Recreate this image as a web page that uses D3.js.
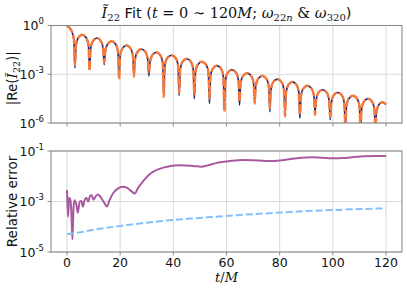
<!DOCTYPE html>
<html><head><meta charset="utf-8">
<script src="https://cdn.jsdelivr.net/npm/d3@7"></script>
<style>body{margin:0;background:#fff} svg{display:block}</style>
</head><body><svg id="c" width="407" height="288"></svg>
<script>
// ---------- data ----------
const xTicks = [0, 20, 40, 60, 80, 100, 120];
const topYTickExp = [0, -3, -6];
const botYTickExp = [-1, -3, -5];

// |Re(I22)| : times and log10 values
const tTop = [0, 1.0, 1.8, 2.6,
  3.0, 3.4, 4.2, 5.75, 7.3, 8.1,
  8.5, 8.9, 9.7, 11.25, 12.8, 13.6,
  14.0, 14.4, 15.2, 16.8, 18.4, 19.2,
  19.6, 20.0, 20.8, 22.4, 24.0, 24.8,
  25.2, 25.6, 26.4, 28.0, 29.6, 30.4,
  30.8, 31.2, 32.0, 33.6, 35.2, 36.0,
  36.4, 36.8, 37.6, 39.3, 41.0, 41.8,
  42.2, 42.6, 43.4, 45.05, 46.7, 47.5,
  47.9, 48.3, 49.1, 50.75, 52.4, 53.2,
  53.6, 54.0, 54.8, 56.4, 58.0, 58.8,
  59.2, 59.6, 60.4, 62.05, 63.7, 64.5,
  64.9, 65.3, 66.1, 67.75, 69.4, 70.2,
  70.6, 71.0, 71.8, 73.45, 75.1, 75.9,
  76.3, 76.7, 77.5, 79.15, 80.8, 81.6,
  82.0, 82.4, 83.2, 84.8, 86.4, 87.2,
  87.6, 88.0, 88.8, 90.45, 92.1, 92.9,
  93.3, 93.7, 94.5, 96.15, 97.8, 98.6,
  99.0, 99.4, 100.2, 101.85, 103.5, 104.3,
  104.7, 105.1, 105.9, 107.55, 109.2, 110.0,
  110.4, 110.8, 111.6, 113.2, 114.8, 115.6,
  116.0, 116.4, 117.2, 118.5, 120.0];

const fitLog = [-0.02, -0.15, -0.35, -0.85,
  -2.45, -1.22, -0.77, -0.57, -0.77, -1.22,
  -2.8, -1.42, -0.97, -0.77, -0.97, -1.42,
  -2.3, -1.62, -1.17, -0.97, -1.17, -1.62,
  -3.3, -1.87, -1.42, -1.22, -1.42, -1.87,
  -3.15, -2.1, -1.65, -1.45, -1.65, -2.1,
  -2.9, -2.3, -1.85, -1.65, -1.85, -2.3,
  -4.4, -2.48, -2.03, -1.83, -2.03, -2.48,
  -4.15, -2.7, -2.25, -2.05, -2.25, -2.7,
  -4.25, -2.88, -2.43, -2.23, -2.43, -2.88,
  -4.5, -3.12, -2.67, -2.47, -2.67, -3.12,
  -5.3, -3.37, -2.92, -2.72, -2.92, -3.37,
  -4.7, -3.58, -3.13, -2.93, -3.13, -3.58,
  -4.8, -3.75, -3.3, -3.1, -3.3, -3.75,
  -5.1, -3.95, -3.5, -3.3, -3.5, -3.95,
  -5.6, -4.12, -3.67, -3.47, -3.67, -4.12,
  -5.5, -4.35, -3.9, -3.7, -3.9, -4.35,
  -5.5, -4.6, -4.15, -3.95, -4.15, -4.6,
  -5.65, -4.77, -4.32, -4.12, -4.32, -4.77,
  -6.3, -4.97, -4.52, -4.32, -4.52, -4.97,
  -6.3, -5.15, -4.7, -4.5, -4.7, -5.15,
  -6.3, -5.35, -4.9, -4.72, -4.85];

const dataLog = [-0.02, -0.15, -0.35, -0.85,
  -2.6, -1.22, -0.77, -0.57, -0.77, -1.22,
  -2.7, -1.42, -0.97, -0.77, -0.97, -1.42,
  -2.4, -1.62, -1.17, -0.97, -1.17, -1.62,
  -3.2, -1.87, -1.42, -1.22, -1.42, -1.87,
  -3.0, -2.1, -1.65, -1.45, -1.65, -2.1,
  -3.1, -2.3, -1.85, -1.65, -1.85, -2.3,
  -4.1, -2.48, -2.03, -1.83, -2.03, -2.48,
  -4.3, -2.7, -2.25, -2.05, -2.25, -2.7,
  -4.5, -2.88, -2.43, -2.23, -2.43, -2.88,
  -4.8, -3.12, -2.67, -2.47, -2.67, -3.12,
  -4.9, -3.37, -2.92, -2.72, -2.92, -3.37,
  -4.9, -3.58, -3.13, -2.93, -3.13, -3.58,
  -4.6, -3.75, -3.3, -3.1, -3.3, -3.75,
  -5.3, -3.95, -3.5, -3.3, -3.5, -3.95,
  -5.2, -4.12, -3.67, -3.47, -3.67, -4.12,
  -5.7, -4.35, -3.9, -3.7, -3.9, -4.35,
  -5.3, -4.6, -4.15, -3.95, -4.15, -4.6,
  -5.8, -4.77, -4.32, -4.12, -4.32, -4.77,
  -6.3, -4.97, -4.52, -4.32, -4.52, -4.97,
  -6.3, -5.15, -4.7, -4.5, -4.7, -5.15,
  -6.3, -5.35, -4.9, -4.72, -4.85];

// relative error (purple) : times and log10 values
const tErr = [0.0, 0.2, 0.45, 0.8, 1.2, 1.6, 2.05, 2.5, 2.9, 3.5, 4.1, 4.8, 5.4, 6.0, 6.6, 7.3,
  8.0, 8.7, 9.3, 10.0, 10.8, 11.7, 12.8, 14.0, 15.0, 16.0, 17.3, 19.0, 21.0, 22.8, 24.3, 25.5,
  26.8, 28.6, 30.5, 32.5, 34.5, 36.5, 39, 42, 45, 48, 50.5, 53, 56, 59, 62, 66, 70, 74, 77, 80,
  84, 88, 92, 96, 100, 104, 108, 112, 116, 120];
const errLog = [-2.55, -3.1, -3.6, -2.85, -2.9, -3.3, -4.5, -3.2, -2.95, -3.1, -3.45, -3.0, -2.98, -3.2, -2.95, -2.85,
  -3.0, -2.78, -2.75, -2.93, -2.8, -2.72, -2.85, -3.05, -3.2, -2.95, -2.68, -2.5, -2.42, -2.47, -2.6, -2.68,
  -2.45, -2.2, -1.98, -1.82, -1.72, -1.65, -1.59, -1.56, -1.57, -1.6, -1.62, -1.57, -1.48, -1.43, -1.39, -1.36, -1.37, -1.39, -1.4, -1.38,
  -1.32, -1.27, -1.25, -1.27, -1.29, -1.28, -1.24, -1.21, -1.2, -1.2];

// relative error (light blue dashed)
const tErr2 = [0, 5, 10, 15, 20, 25, 30, 35, 40, 50, 60, 70, 80, 90, 100, 110, 120];
const err2Log = [-4.3, -4.22, -4.12, -4.04, -3.97, -3.9, -3.84, -3.78, -3.73, -3.65, -3.57, -3.5, -3.44, -3.38, -3.34, -3.3, -3.27];

// ---------- drawing ----------
const svg = d3.select('#c');
const L = 51, R = 402, T1 = 25.5, B1 = 123, T2 = 151, B2 = 252;
const SANS = "'DejaVu Sans', sans-serif";
const SERIF = "'DejaVu Serif', serif";
const x = d3.scaleLinear().domain([-6, 126]).range([L, R]);
const yTop = d3.scaleLog().domain([1e-6, 1]).range([B1, T1]);
const yBot = d3.scaleLog().domain([1e-5, 1e-1]).range([B2, T2]);

const defs = svg.append('defs');
function clip(id, top, bot) {
  defs.append('clipPath').attr('id', id).append('rect')
    .attr('x', L).attr('y', top).attr('width', R - L).attr('height', bot - top);
}
clip('c1', T1, B1); clip('c2', T2, B2);

function panel(y, top, bot, exps, clipId, showXLabels) {
  const g = svg.append('g');
  g.selectAll('.gx').data(xTicks).join('line')
    .attr('x1', d => x(d)).attr('x2', d => x(d)).attr('y1', top).attr('y2', bot)
    .attr('stroke', '#d9d9d9').attr('stroke-width', 1);
  g.selectAll('.gy').data(exps).join('line')
    .attr('x1', L).attr('x2', R).attr('y1', d => y(Math.pow(10, d))).attr('y2', d => y(Math.pow(10, d)))
    .attr('stroke', '#d9d9d9').attr('stroke-width', 1);
  const content = svg.append('g').attr('clip-path', `url(#${clipId})`);
  svg.append('rect').attr('x', L).attr('y', top).attr('width', R - L).attr('height', bot - top)
    .attr('fill', 'none').attr('stroke', '#8c8c8c').attr('stroke-width', 1.1);
  svg.append('g').selectAll('line').data(xTicks).join('line')
    .attr('x1', d => x(d)).attr('x2', d => x(d)).attr('y1', bot).attr('y2', bot + 3.5)
    .attr('stroke', '#8c8c8c').attr('stroke-width', 1);
  if (showXLabels) {
    svg.append('g').selectAll('text').data(xTicks).join('text')
      .attr('x', d => x(d)).attr('y', bot + 15)
      .attr('text-anchor', 'middle').attr('font-family', SANS).attr('font-size', 12.5)
      .attr('fill', '#111').text(d => d);
  }
  svg.append('g').selectAll('line').data(exps).join('line')
    .attr('x1', L - 3.5).attr('x2', L).attr('y1', d => y(Math.pow(10, d))).attr('y2', d => y(Math.pow(10, d)))
    .attr('stroke', '#8c8c8c').attr('stroke-width', 1);
  const yl = svg.append('g').selectAll('text').data(exps).join('text')
    .attr('x', L - 7).attr('y', d => y(Math.pow(10, d)) + 4.5)
    .attr('text-anchor', 'end').attr('font-family', SANS).attr('font-size', 12.5).attr('fill', '#111');
  yl.append('tspan').text('10');
  yl.append('tspan').attr('dy', -6).attr('font-size', 8.5).text(d => d === 0 ? '0' : '-' + (-d));
  return content;
}

const c1 = panel(yTop, T1, B1, topYTickExp, 'c1', false);
const c2 = panel(yBot, T2, B2, botYTickExp, 'c2', true);

const lineTop = d3.line().x(d => x(d[0])).y(d => yTop(Math.pow(10, d[1]))).curve(d3.curveMonotoneX);
const lineBot = d3.line().x(d => x(d[0])).y(d => yBot(Math.pow(10, d[1]))).curve(d3.curveMonotoneX);

c1.append('path').attr('d', lineTop(tTop.map((t, i) => [t, dataLog[i]])))
  .attr('fill', 'none').attr('stroke', '#0F2080').attr('stroke-width', 1.6);
c1.append('path').attr('d', lineTop(tTop.map((t, i) => [t, fitLog[i]])))
  .attr('fill', 'none').attr('stroke', '#F5793A').attr('stroke-width', 2.4)
  .attr('stroke-dasharray', '9,2.5');

c2.append('path').attr('d', lineBot(tErr.map((t, i) => [t, errLog[i]])))
  .attr('fill', 'none').attr('stroke', '#A95AA1').attr('stroke-width', 2);
c2.append('path').attr('d', lineBot(tErr2.map((t, i) => [t, err2Log[i]])))
  .attr('fill', 'none').attr('stroke', '#85C0F9').attr('stroke-width', 2)
  .attr('stroke-dasharray', '7,3');

// title
const title = svg.append('text').attr('x', (L + R) / 2).attr('y', 17.5)
  .attr('text-anchor', 'middle').attr('font-family', SANS).attr('font-size', 14.5).attr('fill', '#111');
title.append('tspan').attr('font-family', SERIF).attr('font-style', 'italic').text('\u0128');
title.append('tspan').attr('font-family', SERIF).attr('font-size', 10).attr('dy', 3).text('22');
title.append('tspan').attr('dy', -3).text(' Fit (');
title.append('tspan').attr('font-family', SERIF).attr('font-style', 'italic').text('t');
title.append('tspan').attr('font-family', SERIF).text(' = 0 \u223C 120');
title.append('tspan').attr('font-family', SERIF).attr('font-style', 'italic').text('M');
title.append('tspan').attr('font-family', SERIF).text('; ');
title.append('tspan').attr('font-family', SERIF).attr('font-style', 'italic').text('\u03C9');
title.append('tspan').attr('font-family', SERIF).attr('font-size', 10).attr('dy', 3).text('22');
title.append('tspan').attr('font-family', SERIF).attr('font-style', 'italic').attr('font-size', 10).text('n');
title.append('tspan').attr('font-family', SERIF).attr('dy', -3).text(' & ');
title.append('tspan').attr('font-family', SERIF).attr('font-style', 'italic').text('\u03C9');
title.append('tspan').attr('font-family', SERIF).attr('font-size', 10).attr('dy', 3).text('320');
title.append('tspan').attr('dy', -3).text(')');

// y labels
const yl1 = svg.append('text').attr('transform', `translate(17,${(T1 + B1) / 2 + 4}) rotate(-90)`)
  .attr('text-anchor', 'middle').attr('font-family', SANS).attr('font-size', 13.5).attr('fill', '#111');
yl1.append('tspan').text('|Re(');
yl1.append('tspan').attr('font-family', SERIF).attr('font-style', 'italic').text('\u0128');
yl1.append('tspan').attr('font-family', SERIF).attr('font-size', 9.5).attr('dy', 3).text('22');
yl1.append('tspan').attr('dy', -3).text(')|');

svg.append('text').attr('transform', `translate(17,${(T2 + B2) / 2}) rotate(-90)`)
  .attr('text-anchor', 'middle').attr('font-family', SANS).attr('font-size', 13.5).attr('fill', '#111')
  .text('Relative error');

// x label
const xl = svg.append('text').attr('x', (L + R) / 2).attr('y', 282)
  .attr('text-anchor', 'middle').attr('font-family', SERIF).attr('font-size', 13).attr('fill', '#111');
xl.append('tspan').attr('font-style', 'italic').text('t');
xl.append('tspan').text('/');
xl.append('tspan').attr('font-style', 'italic').text('M');
</script>
</body></html>
